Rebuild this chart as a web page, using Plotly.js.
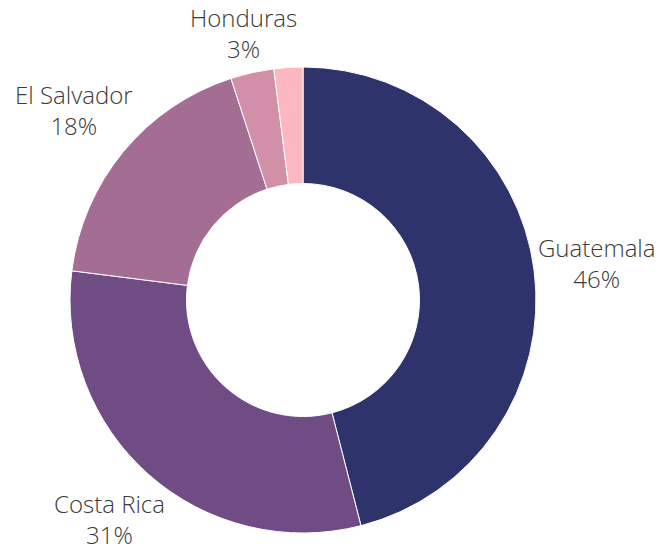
<!DOCTYPE html>
<html>
<head>
<meta charset="utf-8">
<script src="https://cdn.plot.ly/plotly-3.0.1.min.js"></script>
<style>html,body{margin:0;padding:0;background:#fff;}#chart{width:660px;height:547px;}</style>
</head>
<body>
<div id="chart"></div>
<script>
const labels = ["Guatemala", "Costa Rica", "El Salvador", "Honduras", "Nicaragua"];
const values = [46, 31, 18, 3, 2];
const showLabel = [true, true, true, true, false];
const colors = ["#2f336b", "#6f4c84", "#a46d94", "#d28fa8", "#fdb8bf"];

const W = 660, H = 547;
const margin = {l: 20, r: 74, t: 67, b: 14};
const fontFamily = "Open Sans";
const fontSize = 24;
const fontWeight = 300;
const textColor = "#3a3a3a";

// geometry of the pie domain (Plotly: radius = min(w,h)/2, centered in plot area)
const pw = W - margin.l - margin.r, ph = H - margin.t - margin.b;
const R = Math.min(pw, ph) / 2;
const cxp = margin.l + pw / 2, cyp = margin.t + ph / 2;

const ctx = document.createElement("canvas").getContext("2d");
ctx.font = fontWeight + " " + fontSize + "px '" + fontFamily + "'";

const total = values.reduce((s, v) => s + v, 0);
const fmt = v => Math.round(v / total * 100) + "%";
const annotations = [];
let cum = 0;
const halfH = 29, pad = 1;
values.forEach((v, i) => {
  const mid = (cum + v / 2) / total * 2 * Math.PI;
  cum += v;
  if (!showLabel[i]) return;
  const dx = Math.sin(mid), dy = -Math.cos(mid);
  const pct = fmt(v);
  const halfW = Math.max(ctx.measureText(labels[i]).width, ctx.measureText(pct).width) / 2;
  const k = R + pad + halfW * Math.abs(dx) + halfH * Math.abs(dy);
  const px = cxp + dx * k, py = cyp + dy * k;
  annotations.push({
    text: labels[i] + "<br>" + pct,
    xref: "paper", yref: "paper",
    x: (px - margin.l) / pw, y: 1 - (py - margin.t) / ph,
    xanchor: "center", yanchor: "middle", showarrow: false,
    font: {family: fontFamily, size: fontSize, color: textColor, weight: fontWeight}
  });
});

Plotly.newPlot("chart", [{
  type: "pie",
  labels: labels,
  values: values,
  hole: 0.5,
  sort: false,
  direction: "clockwise",
  rotation: 0,
  textinfo: "none",
  marker: {colors: colors, line: {color: "#ffffff", width: 1}},
  showlegend: false,
  automargin: false
}], {
  width: W, height: H,
  margin: margin,
  paper_bgcolor: "#ffffff",
  showlegend: false,
  annotations: annotations
}, {displayModeBar: false, staticPlot: true});
</script>
</body>
</html>
